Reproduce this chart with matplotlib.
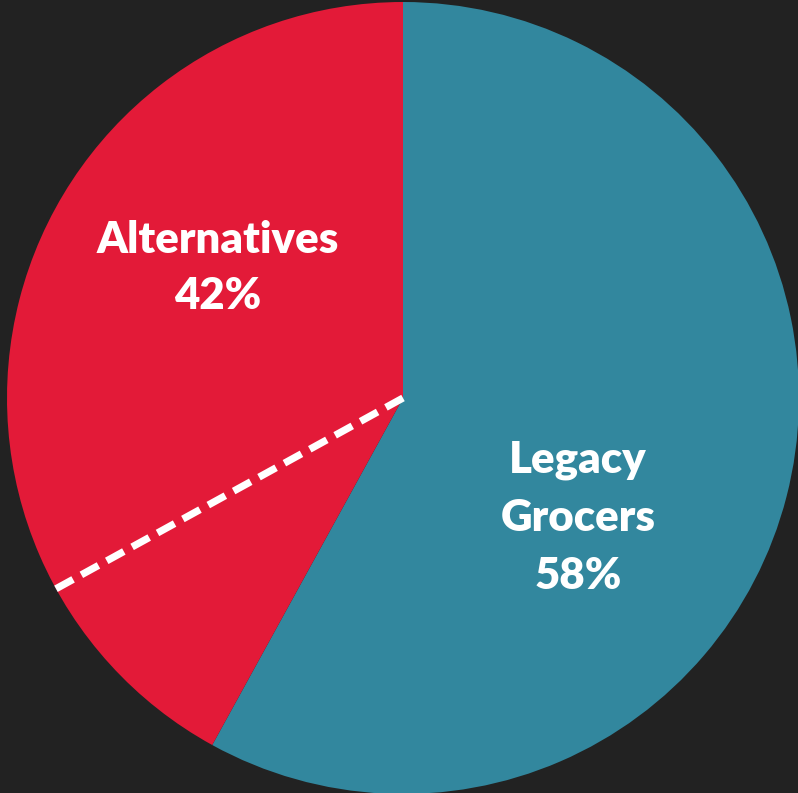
import numpy as np
import matplotlib
matplotlib.use("Agg")
import matplotlib.pyplot as plt

# shares of the pie, clockwise from 12 o'clock
labels = ["Legacy\nGrocers", "Alternatives"]
shares = [58, 42]
# alternatives split by the dashed divider (part next to legacy first)
alt_parts = [9, 33]

colors = ["#32879E", "#E31A38"]
bg = "#222222"

W, H, DPI = 798, 793, 100
R_PX = 396.0
CX, CY = 403.0, 398.0  # centre in pixels from top-left

fig = plt.figure(figsize=(W / DPI, H / DPI), dpi=DPI, facecolor=bg)
ax = fig.add_axes([0, 0, 1, 1])
ax.set_facecolor(bg)

ax.pie(shares, colors=colors, startangle=90, counterclock=False, radius=1.0,
       wedgeprops=dict(linewidth=0))

ax.set_xlim(-CX / R_PX, (W - CX) / R_PX)
ax.set_ylim(-(H - CY) / R_PX, CY / R_PX)
ax.axis("off")

# dashed divider inside the alternatives wedge
ang = np.deg2rad(90 - 360 * (shares[0] + alt_parts[0]) / 100)
ax.plot([0, np.cos(ang)], [0, np.sin(ang)], color="white", lw=5.2,
        linestyle=(0, (2.7, 1.31)), solid_capstyle="butt", dash_capstyle="butt")


def px(x, y):
    return (x - CX) / R_PX, (CY - y) / R_PX


font = dict(family=["Lato", "DejaVu Sans"], weight="heavy", color="white",
            fontsize=31.5, ha="center", va="baseline")

pct = [f"{s}%" for s in shares]
for txt, y in zip(["Alternatives", pct[1]], [253, 309]):
    ax.text(*px(218, y), txt, **font)
for txt, y in zip(labels[0].split("\n") + [pct[0]], [472, 531, 589]):
    ax.text(*px(578, y), txt, **font)

fig.savefig("out.png", dpi=DPI, facecolor=bg)
